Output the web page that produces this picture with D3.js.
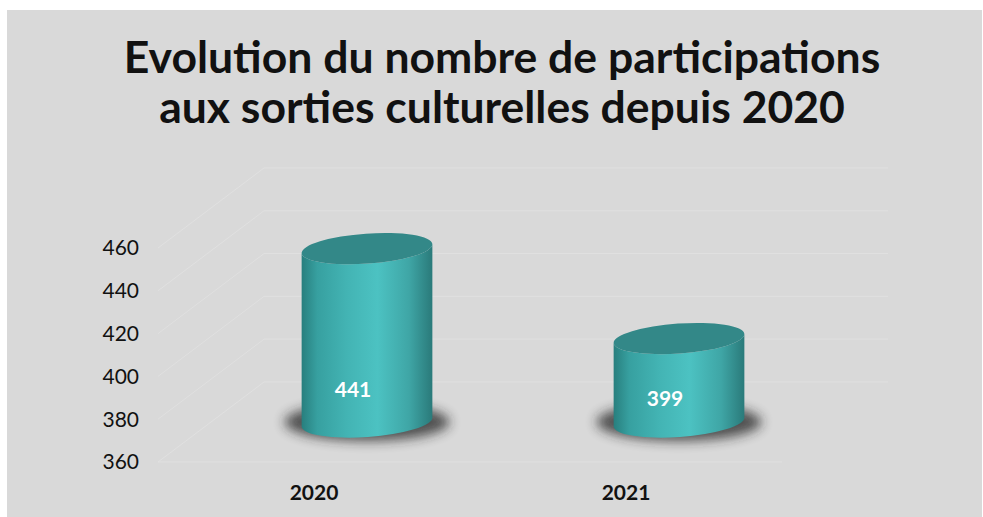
<!DOCTYPE html>
<html>
<head>
	<meta charset="utf-8" />
	<title>Evolution du nombre de participations</title>
	<script src="https://d3js.org/d3.v7.min.js"></script>
	<style type="text/css">
		body { margin: 0; background: #ffffff; }
		svg text { font-family: Lato, "Open Sans", sans-serif; }
	</style>
</head>
<body>
	<script>
		const years = ["2020", "2021"];
		const participations = [441, 399];
		const yTicks = [360, 380, 400, 420, 440, 460];
		const titleLines = ["Evolution du nombre de participations", "aux sorties culturelles depuis 2020"];

		const width = 983;
		const height = 517;
		// depth offset of the 3D floor (front -> back wall)
		const depthX = 106;
		const depthY = -80;

		const svg = d3.select("body")
			.append("svg")
			.attr("width", width)
			.attr("height", height);

		const defs = svg.append("defs");
		const grad = defs.append("linearGradient")
			.attr("id", "cyl")
			.attr("x1", "0%").attr("x2", "100%")
			.attr("y1", "0%").attr("y2", "0%");
		[["0%", "#287f7e"], ["12%", "#37a0a0"], ["35%", "#43b4b4"], ["58%", "#4cc2c2"],
		 ["82%", "#3fa6a6"], ["100%", "#2a7a7a"]].forEach(s => {
			grad.append("stop").attr("offset", s[0]).attr("stop-color", s[1]);
		});
		defs.append("filter")
			.attr("id", "blur")
			.attr("x", "-50%").attr("y", "-100%")
			.attr("width", "200%").attr("height", "300%")
			.append("feGaussianBlur").attr("stdDeviation", 6);

		// chart area background
		svg.append("rect")
			.attr("x", 7).attr("y", 10)
			.attr("width", width - 8).attr("height", height - 10)
			.attr("fill", "#d9d9d9");

		// title
		svg.append("g").selectAll("text")
			.data(titleLines)
			.join("text")
			.attr("x", 502)
			.attr("y", (d, i) => 73 + i * 50)
			.attr("text-anchor", "middle")
			.attr("font-size", 44.5)
			.attr("font-weight", "bold")
			.attr("fill", "#111")
			.text(d => d);

		const x = d3.scaleBand()
			.domain(years)
			.range([158, 782]);

		const y = d3.scaleLinear()
			.domain([360, 460])
			.range([462, 248]);

		// grid: back wall lines, side wall diagonals, floor edge
		const grid = svg.append("g")
			.attr("stroke", "#e0e0e0")
			.attr("stroke-width", 1)
			.attr("fill", "none");
		grid.selectAll("line.back")
			.data(yTicks)
			.join("line")
			.attr("class", "back")
			.attr("x1", x.range()[0] + depthX).attr("x2", x.range()[1] + depthX)
			.attr("y1", d => y(d) + depthY).attr("y2", d => y(d) + depthY);
		grid.selectAll("line.side")
			.data(yTicks)
			.join("line")
			.attr("class", "side")
			.attr("x1", x.range()[0]).attr("x2", x.range()[0] + depthX)
			.attr("y1", d => y(d)).attr("y2", d => y(d) + depthY);
		grid.append("line")
			.attr("x1", x.range()[0]).attr("x2", x.range()[1])
			.attr("y1", y(360)).attr("y2", y(360));

		// y axis labels
		svg.append("g").selectAll("text")
			.data(yTicks)
			.join("text")
			.attr("x", 139)
			.attr("y", d => y(d))
			.attr("dy", "0.35em")
			.attr("text-anchor", "end")
			.attr("font-size", 21)
			.attr("fill", "#111")
			.text(d => d);

		// x axis labels
		svg.append("g").selectAll("text")
			.data(years)
			.join("text")
			.attr("x", d => x(d) + x.bandwidth() / 2)
			.attr("y", 500)
			.attr("text-anchor", "middle")
			.attr("font-size", 21)
			.attr("font-weight", "bold")
			.attr("fill", "#111")
			.text(d => d);

		// cylinders
		const rx = x.bandwidth() * 0.21;
		const ry = 15;
		const rot = -4;
		const rad = rot * Math.PI / 180;
		const ex = rx * Math.cos(rad);
		const ey = rx * Math.sin(rad);
		const floorY = y(360) + depthY / 2;

		const bars = svg.append("g").selectAll("g")
			.data(years.map((yr, i) => ({year: yr, value: participations[i]})))
			.join("g");

		const cxOf = d => x(d.year) + x.bandwidth() / 2 + depthX / 2;
		const topOf = d => y(d.value) + depthY / 2;

		bars.append("ellipse")
			.attr("cx", cxOf)
			.attr("cy", floorY)
			.attr("rx", rx + 17)
			.attr("ry", ry + 4)
			.attr("fill", "#222")
			.attr("opacity", 0.75)
			.attr("filter", "url(#blur)");

		bars.append("path")
			.attr("fill", "url(#cyl)")
			.attr("d", d => {
				const cx = cxOf(d), t = topOf(d);
				return "M" + (cx - ex) + "," + (t - ey) +
					"L" + (cx - ex) + "," + (floorY - ey) +
					"A" + rx + "," + ry + " " + rot + " 0 0 " + (cx + ex) + "," + (floorY + ey) +
					"L" + (cx + ex) + "," + (t + ey) +
					"A" + rx + "," + ry + " " + rot + " 0 1 " + (cx - ex) + "," + (t - ey) + "Z";
			});

		bars.append("ellipse")
			.attr("cx", cxOf)
			.attr("cy", topOf)
			.attr("rx", rx)
			.attr("ry", ry)
			.attr("transform", d => "rotate(" + rot + "," + cxOf(d) + "," + topOf(d) + ")")
			.attr("fill", "#338888");

		bars.append("text")
			.attr("x", d => cxOf(d) - 14)
			.attr("y", d => floorY - 15 - 0.1 * (floorY - topOf(d)))
			.attr("dy", "0.35em")
			.attr("text-anchor", "middle")
			.attr("font-size", 21)
			.attr("font-weight", "bold")
			.attr("fill", "#ffffff")
			.text(d => d.value);
	</script>
</body>
</html>
